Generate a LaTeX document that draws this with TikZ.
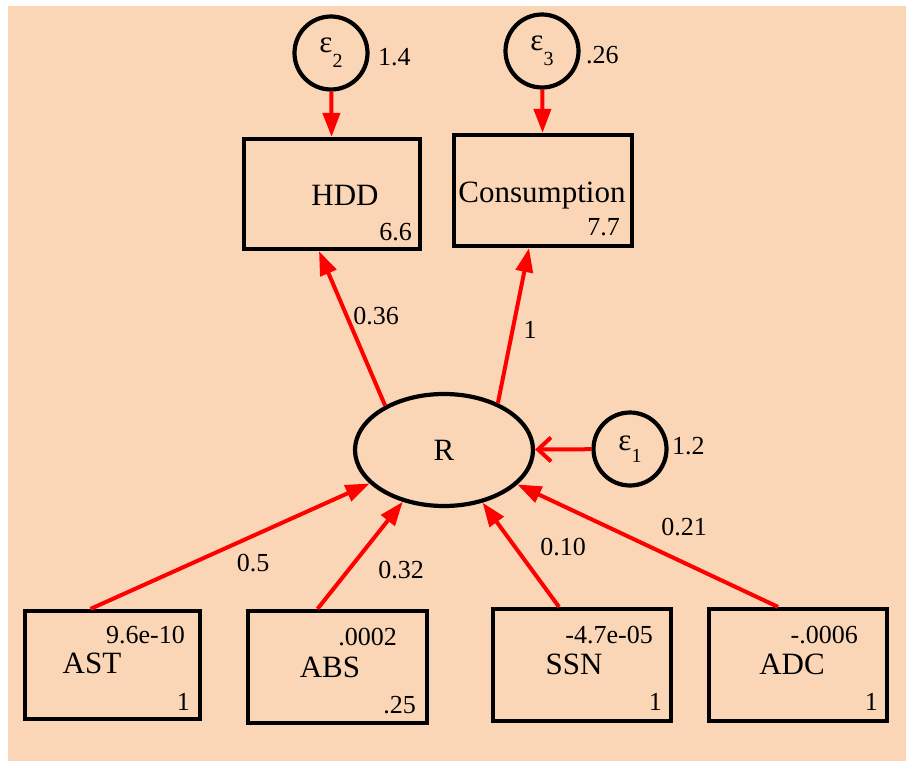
\documentclass[tikz,border=0pt]{standalone}
\usepackage{fontspec}
\setmainfont{Liberation Serif}
\usetikzlibrary{shapes,arrows.meta}
\definecolor{peach}{RGB}{251,214,182}
\newcommand{\nmfont}{\fontsize{31}{34}\selectfont}
\newcommand{\vlfont}{\fontsize{26}{29}\selectfont}
\newcommand{\sbfont}{\fontsize{20}{22}\selectfont}

\begin{document}
\begin{tikzpicture}[x=1pt,y=-1pt]
\tikzstyle{observed}=[rectangle,draw,line width=4.2pt,inner sep=0pt]
\tikzstyle{latent}=[ellipse,draw,line width=4.2pt,inner sep=0pt,font=\nmfont]
\tikzstyle{errterm}=[circle,draw,line width=4.2pt,minimum size=73pt,inner sep=0pt,font=\nmfont]
\tikzstyle{varname}=[anchor=base,font=\nmfont,inner sep=0pt]
\tikzstyle{varstat}=[anchor=base east,font=\vlfont,inner sep=0pt]
\tikzstyle{coef}=[font=\vlfont,inner sep=0pt]
\tikzstyle{regpath}=[red,line width=4pt,-{Triangle[length=24pt,width=17pt]}]

%background.
\useasboundingbox (0,0) rectangle (906,761);
\fill[white] (0,0) rectangle (906,761);
\fill[peach] (8,6) rectangle (906,761);

%measured outcomes.
\node[observed,minimum width=176pt,minimum height=110pt] (hdd) at (332,194) {};
\node[varname] (hdd_name) at (345,205) {HDD};
\node[varstat] (hdd_var) at (412,240) {6.6};

\node[observed,minimum width=178pt,minimum height=111pt] (consumption) at (543,190.5) {};
\node[varname] (cons_name) at (542,202) {Consumption};
\node[varstat] (cons_var) at (620,235) {7.7};

\node[errterm] (e_hdd) at (331,53) {ε\raisebox{-15pt}{\sbfont 2}};
\node[coef,anchor=west] (e_hdd_var) at (378,57) {1.4};
\node[errterm] (e_cons) at (542,51) {ε\raisebox{-15pt}{\sbfont 3}};
\node[coef,anchor=west] (e_cons_var) at (586,55) {.26};

%latent factor.
\node[latent,minimum width=178pt,minimum height=112pt] (r_factor) at (444,450) {R};
\node[errterm] (e_r) at (630,449) {ε\raisebox{-12pt}{\sbfont 1}};
\node[coef,anchor=west] (e_r_var) at (672,446) {1.2};

%causes.
\node[observed,minimum width=175pt,minimum height=108pt] (ast) at (112.5,665) {};
\node[varstat] (ast_mean) at (185,643) {9.6e-10};
\node[varname] (ast_name) at (92,673) {AST};
\node[varstat] (ast_var) at (190,710) {1};

\node[observed,minimum width=179pt,minimum height=112pt] (abs) at (337.5,667) {};
\node[varstat] (abs_mean) at (397,645) {.0002};
\node[varname] (abs_name) at (330,677) {ABS};
\node[varstat] (abs_var) at (416,713) {.25};

\node[observed,minimum width=178pt,minimum height=112pt] (ssn) at (582,665) {};
\node[varstat] (ssn_mean) at (653,643) {-4.7e-05};
\node[varname] (ssn_name) at (574,674) {SSN};
\node[varstat] (ssn_var) at (662,710) {1};

\node[observed,minimum width=178pt,minimum height=112pt] (adc) at (798,665) {};
\node[varstat] (adc_mean) at (858,643) {-.0006};
\node[varname] (adc_name) at (792,674) {ADC};
\node[varstat] (adc_var) at (878,710) {1};

%paths.
\draw[regpath] (e_hdd) -- (hdd);
\draw[regpath] (e_cons) -- (consumption);
\draw[regpath] (r_factor.143) -- ([xshift=-13pt]hdd.south);
\draw[regpath] (r_factor.41) -- ([xshift=-14pt]consumption.south);
\draw[red,line width=4pt,-{Straight Barb[length=13pt,width=24pt]}] (e_r) -- (r_factor);
\draw[regpath] ([xshift=-22pt]ast.north) -- (r_factor);
\draw[regpath] ([xshift=-20pt]abs.north) -- (r_factor);
\draw[regpath] ([xshift=-23pt]ssn.north) -- (r_factor);
\draw[regpath] ([xshift=-20pt]adc.north) -- (r_factor);

\node[coef] (w_hdd) at (376,316) {0.36};
\node[coef] (w_cons) at (530,330) {1};
\node[coef] (w_ast) at (253,563) {0.5};
\node[coef] (w_abs) at (401,570) {0.32};
\node[coef] (w_ssn) at (563,547) {0.10};
\node[coef] (w_adc) at (684,527) {0.21};

\end{tikzpicture}
\end{document}
